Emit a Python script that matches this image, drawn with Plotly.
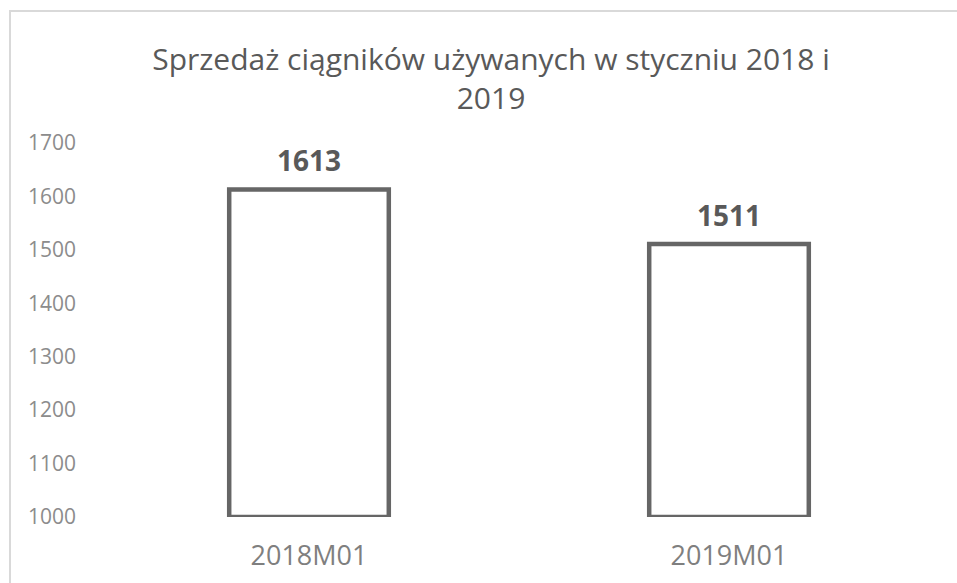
import plotly.graph_objects as go

# data
categories = ["2018M01", "2019M01"]
sales = [1613, 1511]
y_ticks = [1000, 1100, 1200, 1300, 1400, 1500, 1600, 1700]
y_base = 1000

title_text = "Sprzedaż ciągników używanych w styczniu 2018 i<br>2019"

font_family = "Open Sans, Noto Sans, sans-serif"

W, H = 957, 583
ml, mr, mt, mb = 99, 18, 143, 66
pw, ph = W - ml - mr, H - mt - mb

fig = go.Figure(
    data=[
        go.Bar(
            x=categories,
            y=[v - y_base for v in sales],
            base=y_base,
            width=0.38,
            marker=dict(color="white", line=dict(color="#666666", width=4.5)),
            hoverinfo="skip",
        )
    ]
)

# value labels above the bars
for cat, val in zip(categories, sales):
    fig.add_annotation(
        x=cat,
        y=val,
        text=f"<b>{val}</b>",
        showarrow=False,
        yanchor="bottom",
        yshift=8,
        font=dict(size=28, color="#595959", family=font_family),
    )

fig.update_layout(
    width=W,
    height=H,
    margin=dict(l=ml, r=mr, t=mt, b=mb, pad=0, autoexpand=False),
    paper_bgcolor="white",
    plot_bgcolor="white",
    showlegend=False,
    font=dict(family=font_family, color="#808080"),
    title=dict(
        text=title_text,
        x=491 / W,
        xanchor="center",
        y=1 - 70 / H,
        yanchor="top",
        font=dict(size=30, color="#595959", family=font_family),
    ),
    xaxis=dict(
        range=[-0.5, 1.5],
        showline=False,
        showgrid=False,
        ticks="",
        automargin=False,
        tickfont=dict(size=27, color="#7f7f7f"),
        ticklabelstandoff=20,
    ),
    yaxis=dict(
        range=[1000, 1700],
        tickvals=y_ticks,
        showgrid=False,
        zeroline=False,
        showline=False,
        ticks="",
        automargin=False,
        tickfont=dict(size=21, color="#8c8c8c"),
        ticklabelstandoff=22,
    ),
)

# chart area border (light gray frame, cut by the image edges)
fig.add_shape(
    type="rect",
    xref="paper",
    yref="paper",
    x0=(10 - ml) / pw,
    x1=(W + 20 - ml) / pw,
    y0=-(mb + 20) / ph,
    y1=(H - mb - 11) / ph,
    line=dict(color="#d9d9d9", width=2),
    fillcolor="rgba(0,0,0,0)",
    layer="below",
)

fig.write_html(
    "out.html",
    config={"displayModeBar": False},
    post_script="document.body.style.margin='0';",
)
